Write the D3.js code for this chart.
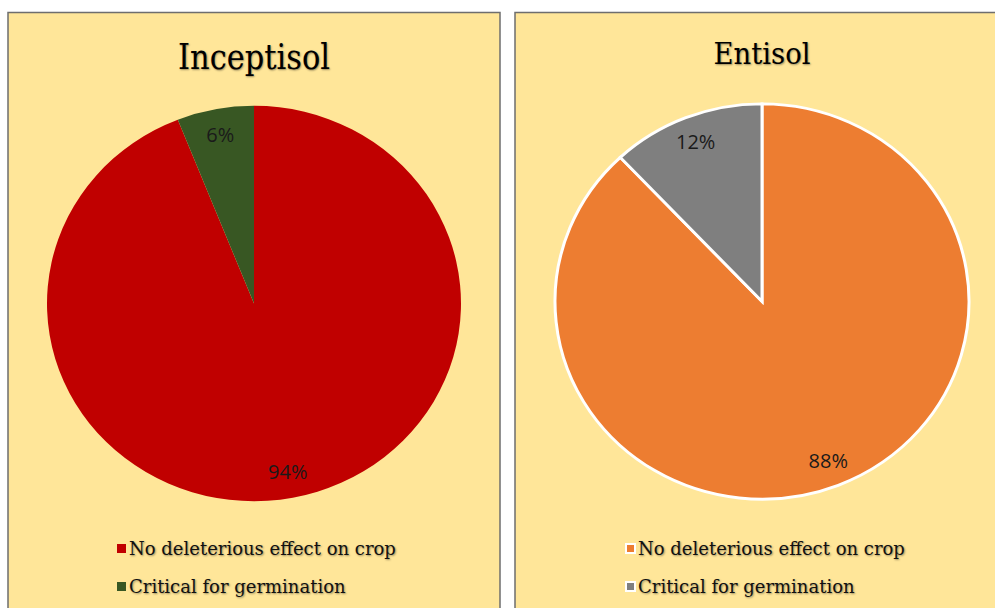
<!DOCTYPE html>
<html>
<head>
<meta charset="utf-8">
<script src="https://cdn.jsdelivr.net/npm/d3@7"></script>
<style>
  body { margin: 0; background: #fff; }
  svg { display: block; }
  .serif { font-family: "DejaVu Serif", "Times New Roman", serif; }
  .shadow { text-shadow: 1px 1px 2px rgba(0,0,0,0.4); }
</style>
</head>
<body>
<svg width="995" height="608"></svg>
<script>
// data
const categories = ["No deleterious effect on crop", "Critical for germination"]
const soils = ["Inceptisol", "Entisol"]
const inceptisolValues = [94, 6]
const entisolValues = [88, 12]
const inceptisolColours = ["#C00000", "#385723"]
const entisolColours = ["#ED7D31", "#7F7F7F"]

const svg = d3.select('svg')

const panels = [
    { title: soils[0], values: inceptisolValues, colours: inceptisolColours, x: 8, w: 492, cx: 254, cy: 303.5, titleSize: 36, titleLen: 152, titleY: 68.5, stroke: 'none', legX: 117 },
    { title: soils[1], values: entisolValues, colours: entisolColours, x: 515, w: 490, cx: 762, cy: 301.5, titleSize: 30, titleLen: 97, titleY: 64, stroke: '#fff', legX: 626 }
]

const radius = 207
const squash = 0.955

let drawPanel = (p) => {
    let g = svg.append('g')

    g.append('rect')
        .attr('x', p.x)
        .attr('y', 12.5)
        .attr('width', p.w)
        .attr('height', 610)
        .attr('fill', '#FFE699')
        .attr('stroke', '#6e6e6e')
        .attr('stroke-width', 1.5)

    g.append('text')
        .attr('class', 'serif shadow')
        .attr('x', p.cx)
        .attr('y', p.titleY)
        .attr('text-anchor', 'middle')
        .attr('font-size', p.titleSize)
        .attr('textLength', p.titleLen)
        .attr('lengthAdjust', 'spacingAndGlyphs')
        .attr('fill', '#000')
        .text(p.title)

    let pie = d3.pie().sort(null).value(d => d)
    let arc = d3.arc().innerRadius(0).outerRadius(radius)
    let labelArc = d3.arc().innerRadius(radius * 0.87).outerRadius(radius * 0.87)

    let pieG = g.append('g')
        .attr('transform', 'translate(' + p.cx + ', ' + p.cy + ') scale(1, ' + squash + ')')

    let arcs = pie(p.values)

    pieG.selectAll('path').data(arcs).enter()
        .append('path')
        .attr('d', arc)
        .attr('fill', (d, i) => p.colours[i])
        .attr('stroke', p.stroke)
        .attr('stroke-width', 3)

    g.selectAll('text.pct').data(arcs).enter()
        .append('text')
        .attr('class', 'pct')
        .attr('transform', d => {
            let c = labelArc.centroid(d)
            return 'translate(' + (p.cx + c[0]) + ', ' + (p.cy + c[1] * squash) + ')'
        })
        .attr('text-anchor', 'middle')
        .attr('dy', '0.35em')
        .style('font-family', '"Open Sans", "Liberation Sans", sans-serif')
        .style('font-size', '20px')
        .attr('fill', '#1a1a1a')
        .text(d => d.data + '%')

    let legend = g.append('g')
        .attr('transform', 'translate(' + p.legX + ', 0)')

    legend.selectAll('rect').data(categories).enter()
        .append('rect')
        .attr('x', 0)
        .attr('y', (d, i) => 544 + i * 38)
        .attr('width', 9)
        .attr('height', 9)
        .attr('fill', (d, i) => p.colours[i])
        .attr('stroke', p.stroke)
        .attr('stroke-width', 2)

    legend.selectAll('text').data(categories).enter()
        .append('text')
        .attr('class', 'serif shadow')
        .attr('x', 12)
        .attr('y', (d, i) => 555 + i * 38)
        .attr('font-size', 18)
        .attr('fill', '#111')
        .text(d => d)
}

panels.forEach(drawPanel)
</script>
</body>
</html>
